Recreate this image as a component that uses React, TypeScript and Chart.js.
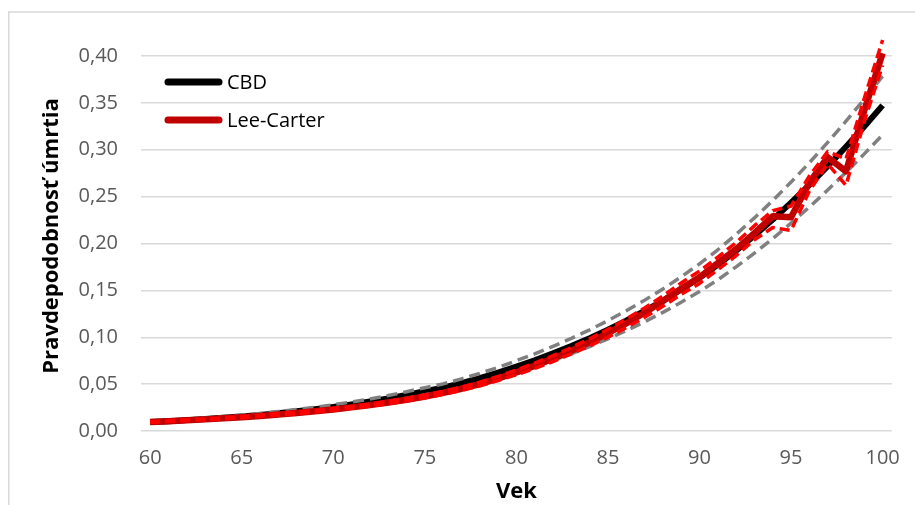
import React, { useEffect, useRef } from "react";
import { Chart, registerables } from "chart.js";

Chart.register(...registerables);

const FONT = "'Open Sans', 'Noto Sans', 'Liberation Sans', sans-serif";

// Vek (age) categories
const ages = [
  60, 61, 62, 63, 64, 65, 66, 67, 68, 69, 70, 71, 72, 73, 74, 75, 76, 77, 78, 79,
  80, 81, 82, 83, 84, 85, 86, 87, 88, 89, 90, 91, 92, 93, 94, 95, 96, 97, 98, 99, 100,
];
const xTickLabels = ["60", "65", "70", "75", "80", "85", "90", "95", "100"];
const yTickLabels = ["0,00", "0,05", "0,10", "0,15", "0,20", "0,25", "0,30", "0,35", "0,40"];

// CBD model
const cbd = [
  0.0095, 0.0105, 0.0116, 0.0128, 0.0141, 0.0156, 0.0172, 0.019, 0.021, 0.0232,
  0.0257, 0.0284, 0.0314, 0.0347, 0.0384, 0.0424, 0.0461, 0.051, 0.0564, 0.0622,
  0.0688, 0.0755, 0.0828, 0.0906, 0.099, 0.108, 0.1177, 0.128, 0.139, 0.1509,
  0.1635, 0.1773, 0.1924, 0.2085, 0.2255, 0.2436, 0.2625, 0.2824, 0.3032, 0.3248, 0.3473,
];
const cbdUpper = [
  0.0104, 0.0114, 0.0126, 0.014, 0.0154, 0.017, 0.0187, 0.0207, 0.0229, 0.0253,
  0.028, 0.031, 0.0342, 0.0378, 0.0419, 0.0462, 0.0502, 0.0556, 0.0615, 0.0678,
  0.075, 0.0823, 0.0903, 0.0988, 0.1079, 0.1177, 0.1283, 0.1395, 0.1515, 0.1645,
  0.1782, 0.1933, 0.2097, 0.2273, 0.2458, 0.2655, 0.2861, 0.3078, 0.3305, 0.354, 0.3786,
];
const cbdLower = [
  0.0086, 0.0096, 0.0106, 0.0116, 0.0128, 0.0142, 0.0157, 0.0173, 0.0191, 0.0211,
  0.0234, 0.0258, 0.0286, 0.0316, 0.0349, 0.0386, 0.042, 0.0464, 0.0513, 0.0566,
  0.0626, 0.0687, 0.0753, 0.0824, 0.0901, 0.0983, 0.1071, 0.1165, 0.1265, 0.1373,
  0.1488, 0.1613, 0.1751, 0.1897, 0.2052, 0.2217, 0.2389, 0.257, 0.2759, 0.2956, 0.316,
];

// Lee-Carter model
const leeCarter = [
  0.0096, 0.0105, 0.0114, 0.0124, 0.0135, 0.0147, 0.0161, 0.0176, 0.0192, 0.021,
  0.023, 0.0252, 0.0276, 0.0303, 0.0334, 0.0368, 0.0407, 0.0451, 0.0501, 0.056,
  0.0625, 0.0695, 0.0772, 0.0856, 0.0946, 0.1043, 0.1148, 0.1262, 0.1386, 0.1518,
  0.164, 0.179, 0.194, 0.211, 0.229, 0.228, 0.265, 0.292, 0.277, 0.342, 0.403,
];
const leeCarterUpper = [
  0.01, 0.0109, 0.0119, 0.0129, 0.014, 0.0153, 0.0167, 0.0183, 0.02, 0.0218,
  0.0239, 0.0262, 0.0287, 0.0315, 0.0347, 0.0383, 0.0423, 0.0469, 0.0521, 0.0582,
  0.065, 0.0723, 0.0803, 0.089, 0.0984, 0.1085, 0.1194, 0.1312, 0.1441, 0.1579,
  0.1706, 0.1855, 0.201, 0.219, 0.235, 0.24, 0.272, 0.298, 0.29, 0.355, 0.417,
];
const leeCarterLower = [
  0.0092, 0.0101, 0.0109, 0.0119, 0.013, 0.0141, 0.0155, 0.0169, 0.0184, 0.0202,
  0.0221, 0.0242, 0.0265, 0.0291, 0.0321, 0.0353, 0.0391, 0.0433, 0.0481, 0.0538,
  0.06, 0.0667, 0.0741, 0.0822, 0.0908, 0.1001, 0.1102, 0.1212, 0.1331, 0.1457,
  0.1574, 0.172, 0.187, 0.204, 0.217, 0.214, 0.256, 0.285, 0.262, 0.33, 0.39,
];

const legendItems = [
  { label: "CBD", color: "#000000" },
  { label: "Lee-Carter", color: "#C00000" },
];
const xTitle = "Vek";
const yTitle = "Pravdepodobnosť úmrtia";

export default function App() {
  const ref = useRef<HTMLCanvasElement>(null);

  useEffect(() => {
    const canvas = ref.current;
    if (!canvas) return;

    const overlay = {
      id: "overlay",
      beforeDraw(chart: any) {
        const ctx = chart.ctx;
        ctx.save();
        ctx.fillStyle = "#ffffff";
        ctx.fillRect(0, 0, chart.width, chart.height);
        ctx.strokeStyle = "#d9d9d9";
        ctx.lineWidth = 1.5;
        ctx.strokeRect(0.75, 4, chart.width + 20, chart.height + 20);
        ctx.restore();
      },
      afterDraw(chart: any) {
        const ctx = chart.ctx;
        const area = chart.chartArea;
        ctx.save();
        // legend
        ctx.font = `20px ${FONT}`;
        ctx.textBaseline = "middle";
        ctx.textAlign = "left";
        legendItems.forEach((item, i) => {
          const y = 74 + i * 38;
          ctx.strokeStyle = item.color;
          ctx.lineWidth = 7;
          ctx.lineCap = "round";
          ctx.beginPath();
          ctx.moveTo(area.left + 27, y);
          ctx.lineTo(area.left + 78, y);
          ctx.stroke();
          ctx.fillStyle = "#000000";
          ctx.fillText(item.label, area.left + 86, y + 1);
        });
        // axis titles
        ctx.font = `bold 22px ${FONT}`;
        ctx.fillStyle = "#000000";
        ctx.textAlign = "center";
        ctx.textBaseline = "middle";
        ctx.fillText(xTitle, (area.left + area.right) / 2, 484);
        ctx.translate(44, 228);
        ctx.rotate(-Math.PI / 2);
        ctx.fillText(yTitle, 0, 0);
        ctx.restore();
      },
    };

    const dashedGray = {
      borderColor: "#808080",
      borderWidth: 3.5,
      borderDash: [11, 6],
    };
    const dashedRed = {
      borderColor: "#FF0000",
      borderWidth: 3.5,
      borderDash: [10, 5],
    };

    const chart = new Chart(canvas, {
      type: "line",
      data: {
        labels: ages.map(String),
        datasets: [
          { label: "CBD", data: cbd, borderColor: "#000000", borderWidth: 6, order: 6 },
          { label: "CBD horná", data: cbdUpper, ...dashedGray, order: 5 },
          { label: "CBD dolná", data: cbdLower, ...dashedGray, order: 4 },
          { label: "Lee-Carter", data: leeCarter, borderColor: "#C00000", borderWidth: 6.5, order: 3 },
          { label: "Lee-Carter horná", data: leeCarterUpper, ...dashedRed, order: 2 },
          { label: "Lee-Carter dolná", data: leeCarterLower, ...dashedRed, order: 1 },
        ].map((d) => ({
          ...d,
          pointRadius: 0,
          tension: 0,
          fill: false,
          clip: false as any,
          borderJoinStyle: "round" as const,
        })),
      },
      options: {
        responsive: false,
        animation: false,
        events: [],
        layout: { padding: { top: 48, right: 19, left: 0, bottom: 0 } },
        plugins: {
          legend: { display: false },
          tooltip: { enabled: false },
          title: { display: false },
        },
        scales: {
          x: {
            type: "category",
            offset: true,
            grid: { display: false, drawTicks: false },
            border: { display: false },
            ticks: {
              autoSkip: false,
              maxRotation: 0,
              minRotation: 0,
              padding: 15,
              color: "#595959",
              font: { family: FONT, size: 20 },
              callback: (_v: any, i: number) => {
                const s = String(ages[i]);
                return xTickLabels.includes(s) ? s : "";
              },
            },
            afterFit: (s: any) => {
              s.height = 74;
            },
          },
          y: {
            min: 0,
            max: 0.4,
            grid: { color: "#d9d9d9", lineWidth: 1.5, drawTicks: false },
            border: { display: false },
            ticks: {
              stepSize: 0.05,
              padding: 23,
              color: "#595959",
              font: { family: FONT, size: 20 },
              callback: (v: any) => yTickLabels[Math.round(Number(v) / 0.05)] ?? "",
            },
            afterFit: (s: any) => {
              s.width = 133;
            },
          },
        },
      },
      plugins: [overlay],
    });

    return () => chart.destroy();
  }, []);

  return (
    <div style={{ position: "fixed", left: 8, top: 8, width: 907, height: 497, overflow: "hidden" }}>
      <canvas ref={ref} width={907} height={497} style={{ display: "block" }} />
    </div>
  );
}
